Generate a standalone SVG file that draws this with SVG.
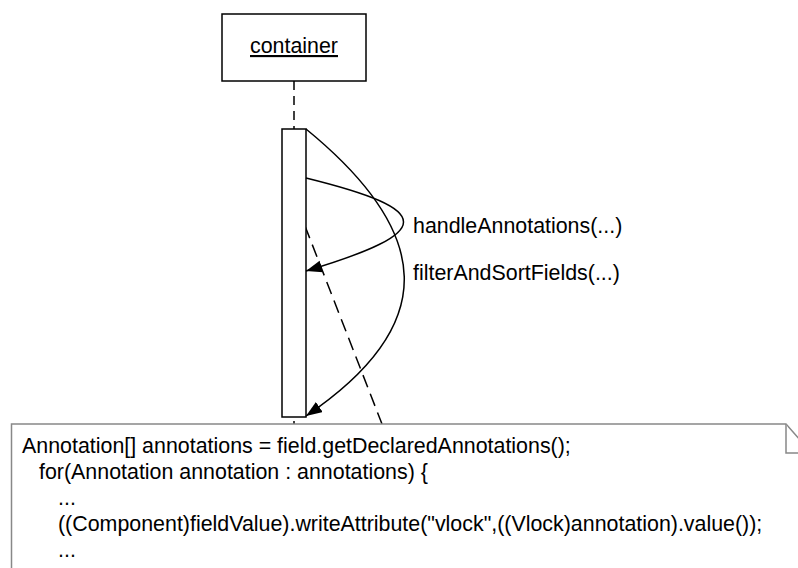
<svg xmlns="http://www.w3.org/2000/svg" width="798" height="568" viewBox="0 0 798 568">
  <style>
    .txt { font-family: "Liberation Sans", Arial, sans-serif; font-size: 21.4px; fill: #000; }
    .box { fill: #fff; stroke: #000; stroke-width: 1.5; }
    .msg { fill: none; stroke: #000; stroke-width: 1.5; }
    .dash { fill: none; stroke: #000; stroke-width: 1.5; }
    .note { fill: #fff; stroke: #888; stroke-width: 1.5; }
  </style>
  <defs>
    <marker id="arrow" markerUnits="userSpaceOnUse" markerWidth="18" markerHeight="14" refX="16" refY="6" orient="auto">
      <path d="M0,0 L16,6 L0,12 z" fill="#000"/>
    </marker>
  </defs>

  <rect width="798" height="568" fill="#fff"/>

  <!-- lifeline object -->
  <g id="container">
    <rect class="box" x="222" y="14" width="144" height="67"/>
    <text class="txt" x="294" y="53" text-anchor="middle" text-decoration="underline">container</text>
  </g>

  <!-- connectors: lifeline, dependency and self-messages -->
  <g id="connectors">
    <line class="dash" x1="294" y1="81" x2="294" y2="129" stroke-dasharray="9,6"/>
    <line class="dash" x1="294" y1="421" x2="294" y2="424"/>
    <line class="dash" x1="305" y1="226" x2="382" y2="424" stroke-dasharray="13,7"/>
  </g>

  <!-- activation bar -->
  <g id="activation">
    <rect class="box" x="282" y="129" width="24" height="288"/>
  </g>

  <g id="messages">
    <path id="msg-filter" class="msg" d="M306,129 C432,232 442,324 306,416" marker-end="url(#arrow)"/>
    <path id="msg-handle" class="msg" d="M306,178 C436,210 436,232 306,271" marker-end="url(#arrow)"/>
    <text class="txt" x="413" y="233">handleAnnotations(...)</text>
    <text class="txt" x="413" y="280">filterAndSortFields(...)</text>
  </g>

  <!-- code note -->
  <g id="note">
    <path class="note" d="M11.5,580 L11.5,424 L786,424 L800,440 L800,580"/>
    <path class="note" fill="none" d="M786,424 L786,453 L800,453"/>
    <text class="txt" x="22" y="453">Annotation[] annotations = field.getDeclaredAnnotations();</text>
    <text class="txt" x="39" y="479">for(Annotation annotation : annotations) {</text>
    <text class="txt" x="58" y="505">...</text>
    <text class="txt" x="58" y="531">((Component)fieldValue).writeAttribute("vlock",((Vlock)annotation).value());</text>
    <text class="txt" x="58" y="557">...</text>
  </g>
</svg>
